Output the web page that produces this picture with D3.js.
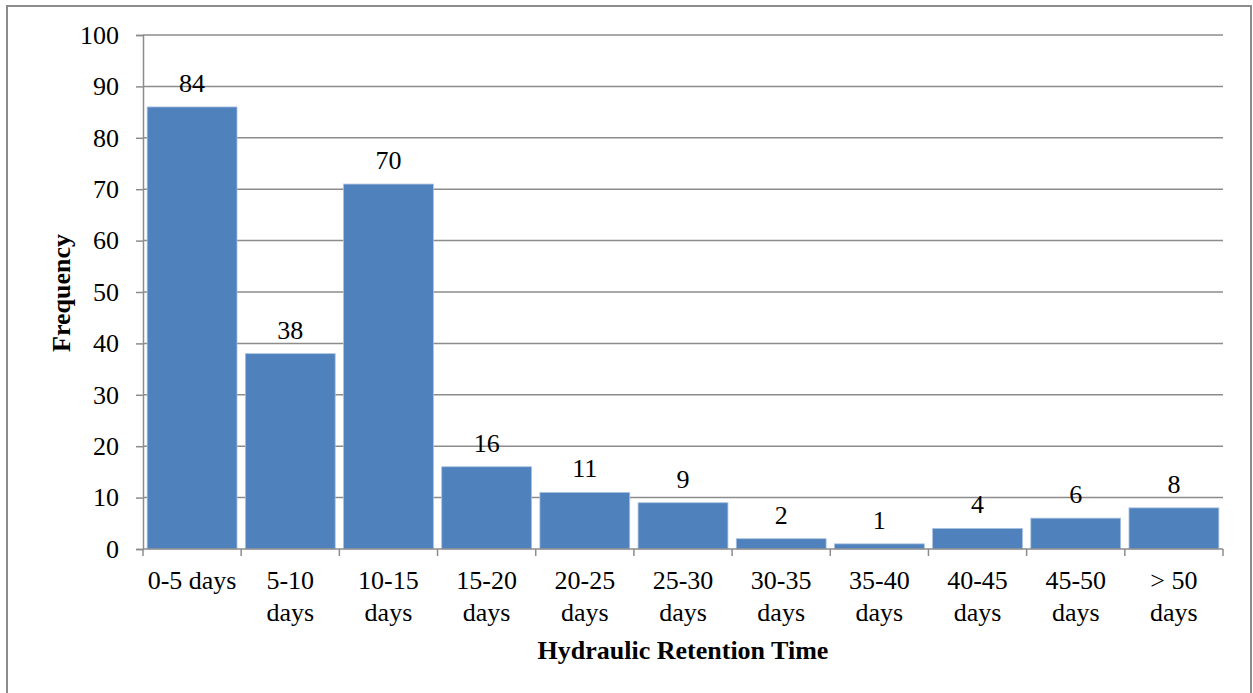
<!DOCTYPE html>
<html>
<head>
<meta charset="utf-8">
<script src="https://cdn.jsdelivr.net/npm/d3@7"></script>
<style>
  body { margin: 0; background: #fff; }
  svg text { font-family: "Liberation Serif", "Times New Roman", serif; fill: #000; }
</style>
</head>
<body>
<div id="chart"></div>
<script>
// categories and bar heights
var categories = ['0-5 days', '5-10 days', '10-15 days', '15-20 days', '20-25 days', '25-30 days',
                  '30-35 days', '35-40 days', '40-45 days', '45-50 days', '> 50 days'];
var heights = [86, 38, 71, 16, 11, 9, 2, 1, 4, 6, 8];
// data labels as printed on the chart (some differ from bar heights)
var labels = ['84', '38', '70', '16', '11', '9', '2', '1', '4', '6', '8'];
var yTicks = [0, 10, 20, 30, 40, 50, 60, 70, 80, 90, 100];

var W = 1253, H = 693;
var margin = { top: 35, right: 30, bottom: 144, left: 143 },
    width = W - margin.left - margin.right,
    height = H - margin.top - margin.bottom;
var fs = '26px';

var root = d3.select('#chart').append('svg')
    .attr('width', W)
    .attr('height', H);

// outer frame
root.append('rect')
    .attr('x', 7).attr('y', 6)
    .attr('width', 1244).attr('height', 700)
    .attr('fill', 'none')
    .attr('stroke', '#8c8c8c')
    .attr('stroke-width', 2);

var svg = root.append('g')
    .attr('transform', 'translate(' + margin.left + ',' + margin.top + ')');

var x = d3.scaleBand()
    .domain(categories)
    .range([0, width])
    .paddingInner(0.085)
    .paddingOuter(0.0425);

var y = d3.scaleLinear()
    .domain([0, 100])
    .range([height, 0]);

// gridlines
svg.append('g')
    .selectAll('line')
    .data(yTicks.slice(1))
    .join('line')
    .attr('x1', 0).attr('x2', width)
    .attr('y1', function(d) { return y(d); })
    .attr('y2', function(d) { return y(d); })
    .attr('stroke', '#8c8c8c')
    .attr('stroke-width', 1.5);

// bars
svg.append('g')
    .selectAll('rect')
    .data(heights)
    .join('rect')
    .attr('x', function(d, i) { return x(categories[i]); })
    .attr('y', function(d) { return y(d); })
    .attr('width', x.bandwidth())
    .attr('height', function(d) { return height - y(d); })
    .attr('fill', '#4f81bd')
    .attr('stroke', '#a9c1e0')
    .attr('stroke-width', 0.8);

// data labels
svg.append('g')
    .selectAll('text')
    .data(heights)
    .join('text')
    .attr('x', function(d, i) { return x(categories[i]) + x.bandwidth() / 2; })
    .attr('y', function(d) { return y(d) - 15; })
    .attr('text-anchor', 'middle')
    .style('font-size', fs)
    .text(function(d, i) { return labels[i]; });

// y axis
var yAxis = d3.axisLeft(y).tickValues(yTicks).tickSize(7).tickPadding(17);
var gy = svg.append('g').call(yAxis);
gy.selectAll('path, line').attr('stroke', '#8c8c8c').attr('stroke-width', 1.5);
gy.selectAll('text').style('font-size', fs);

// x axis with tick marks at category boundaries
var gx = svg.append('g')
    .attr('transform', 'translate(0,' + height + ')');
gx.append('line')
    .attr('x1', 0).attr('x2', width)
    .attr('stroke', '#8c8c8c').attr('stroke-width', 1.5);
var step = x.step();
gx.selectAll('.tick')
    .data(d3.range(categories.length + 1))
    .join('line')
    .attr('class', 'tick')
    .attr('x1', function(i) { return i * step; })
    .attr('x2', function(i) { return i * step; })
    .attr('y1', 0).attr('y2', 7)
    .attr('stroke', '#8c8c8c').attr('stroke-width', 1.5);

// x tick labels, wrapped like the original
gx.selectAll('.lbl')
    .data(categories)
    .join('text')
    .attr('class', 'lbl')
    .attr('text-anchor', 'middle')
    .style('font-size', fs)
    .each(function(d) {
        var t = d3.select(this);
        var cx = x(d) + x.bandwidth() / 2;
        var lines = d === '0-5 days' ? [d] : [d.replace(/ days$/, ''), 'days'];
        lines.forEach(function(s, k) {
            t.append('tspan').attr('x', cx).attr('y', 40 + k * 32).text(s);
        });
    });

// axis titles
root.append('text')
    .attr('x', margin.left + width / 2)
    .attr('y', 659)
    .attr('text-anchor', 'middle')
    .style('font-size', fs)
    .style('font-weight', 'bold')
    .text('Hydraulic Retention Time');

root.append('text')
    .attr('transform', 'translate(70,293) rotate(-90)')
    .attr('text-anchor', 'middle')
    .style('font-size', fs)
    .style('font-weight', 'bold')
    .text('Frequency');
</script>
</body>
</html>
